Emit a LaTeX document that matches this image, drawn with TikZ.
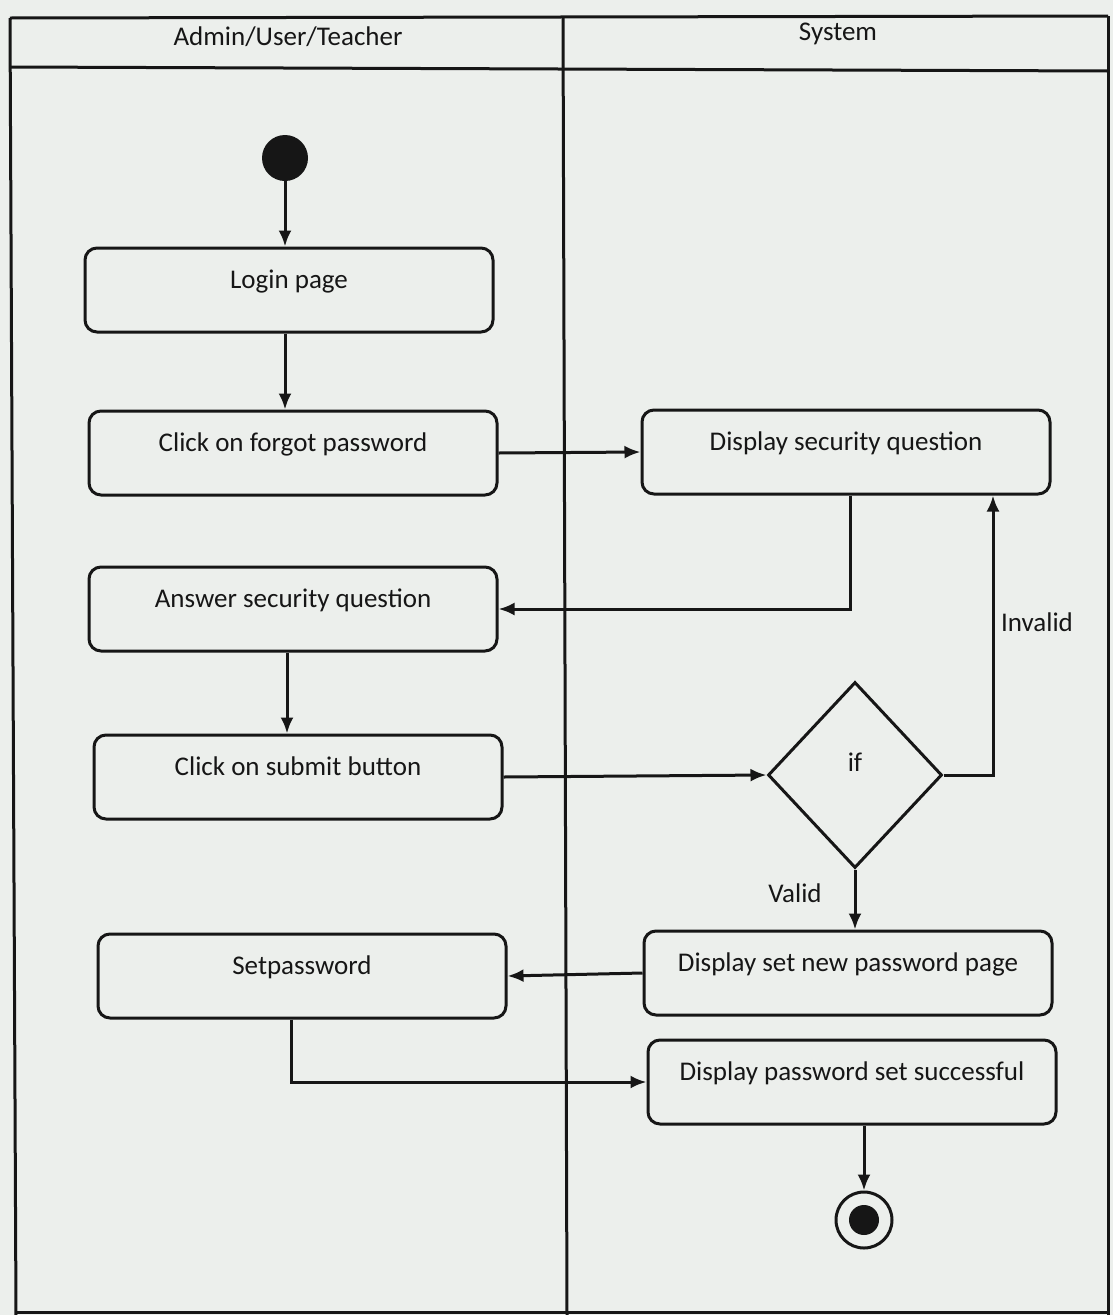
\documentclass[tikz,border=0pt]{standalone}
\usepackage{fontspec}
\setmainfont{Carlito}
\usetikzlibrary{shapes.geometric,arrows.meta}
\definecolor{bg}{RGB}{236,239,236}
\definecolor{ink}{RGB}{22,22,22}
\tikzset{
  act/.style={draw=ink, line width=3pt, rounded corners=12pt, minimum width=408pt,
    inner xsep=0pt, inner ysep=0pt, text height=40pt, text depth=44pt,
    font=\fontsize{27}{31}\selectfont, text=ink},
  arr/.style={draw=ink, line width=3pt, -{Latex[length=16pt,width=13pt]}},
  lane/.style={draw=ink, line width=3pt},
  lbl/.style={font=\fontsize{27}{31}\selectfont, text=ink},
}
\begin{document}
\begin{tikzpicture}[x=1pt,y=-1pt]
\fill[bg] (0,0) rectangle (1113,1315);
\useasboundingbox (0,0) rectangle (1113,1315);
% swimlanes
\draw[lane] (10,18) -- (1108,16);
\draw[lane] (10,67) -- (1108,71);
\draw[lane] (10,18) -- (16,1315);
\draw[lane] (1108,16) -- (1108,1315);
\draw[lane] (563,17) -- (567,1315);
\draw[lane] (16,1312) -- (1108,1312);
\node[lbl] (laneA) at (288,37) {Admin/User/Teacher};
\node[lbl] (laneB) at (838,34) {System};
% nodes
\node[circle, fill=ink, minimum size=46pt, inner sep=0pt] (start) at (285,158) {};
\node[act] (login) at (289,290) {Login page};
\node[act] (forgot) at (293,453) {Click on forgot password};
\node[act] (dq) at (846,452) {Display security question};
\node[act] (answer) at (293,609) {Answer security question};
\node[act] (submit) at (298,777) {Click on submit button};
\node[diamond, draw=ink, line width=3pt, minimum width=174pt, minimum height=186pt,
      inner sep=0pt, text height=0pt, text depth=8pt,
      font=\fontsize{27}{31}\selectfont, text=ink] (if) at (855,775) {if};
\node[act] (setpass) at (302,976) {Setpassword};
\node[act] (newpw) at (848,973) {Display set new password page};
\node[act] (succ) at (852,1082) {Display password set successful};
\node[circle, draw=ink, line width=3pt, minimum size=56pt, inner sep=0pt,
      path picture={\fill[ink] (path picture bounding box.center) circle (15pt);}] (end) at (864,1220) {};
% connectors
\draw[arr] (start) -- (start |- login.north);
\draw[arr] (login.south -| start) -- (start |- forgot.north);
\draw[arr] (forgot.east) -- (dq.west);
\draw[arr] ([xshift=4pt]dq.south) |- (answer.east);
\draw[arr] ([xshift=-6pt]answer.south) -- ([xshift=-6pt]answer.south |- submit.north);
\draw[arr] (submit.east) -- (if.west);
\draw[arr] (if.east) -| ([xshift=147pt]dq.south);
\draw[arr] (if.south) -- (newpw.north -| if.south);
\draw[arr] (newpw.west) -- (setpass.east);
\draw[arr] ([xshift=-11pt]setpass.south) |- (succ.west);
\draw[arr] (succ.south -| end.north) -- (end.north);
\node[lbl] (invalid) at (1037,622) {Invalid};
\node[lbl] (valid) at (795,893) {Valid};
\end{tikzpicture}
\end{document}
